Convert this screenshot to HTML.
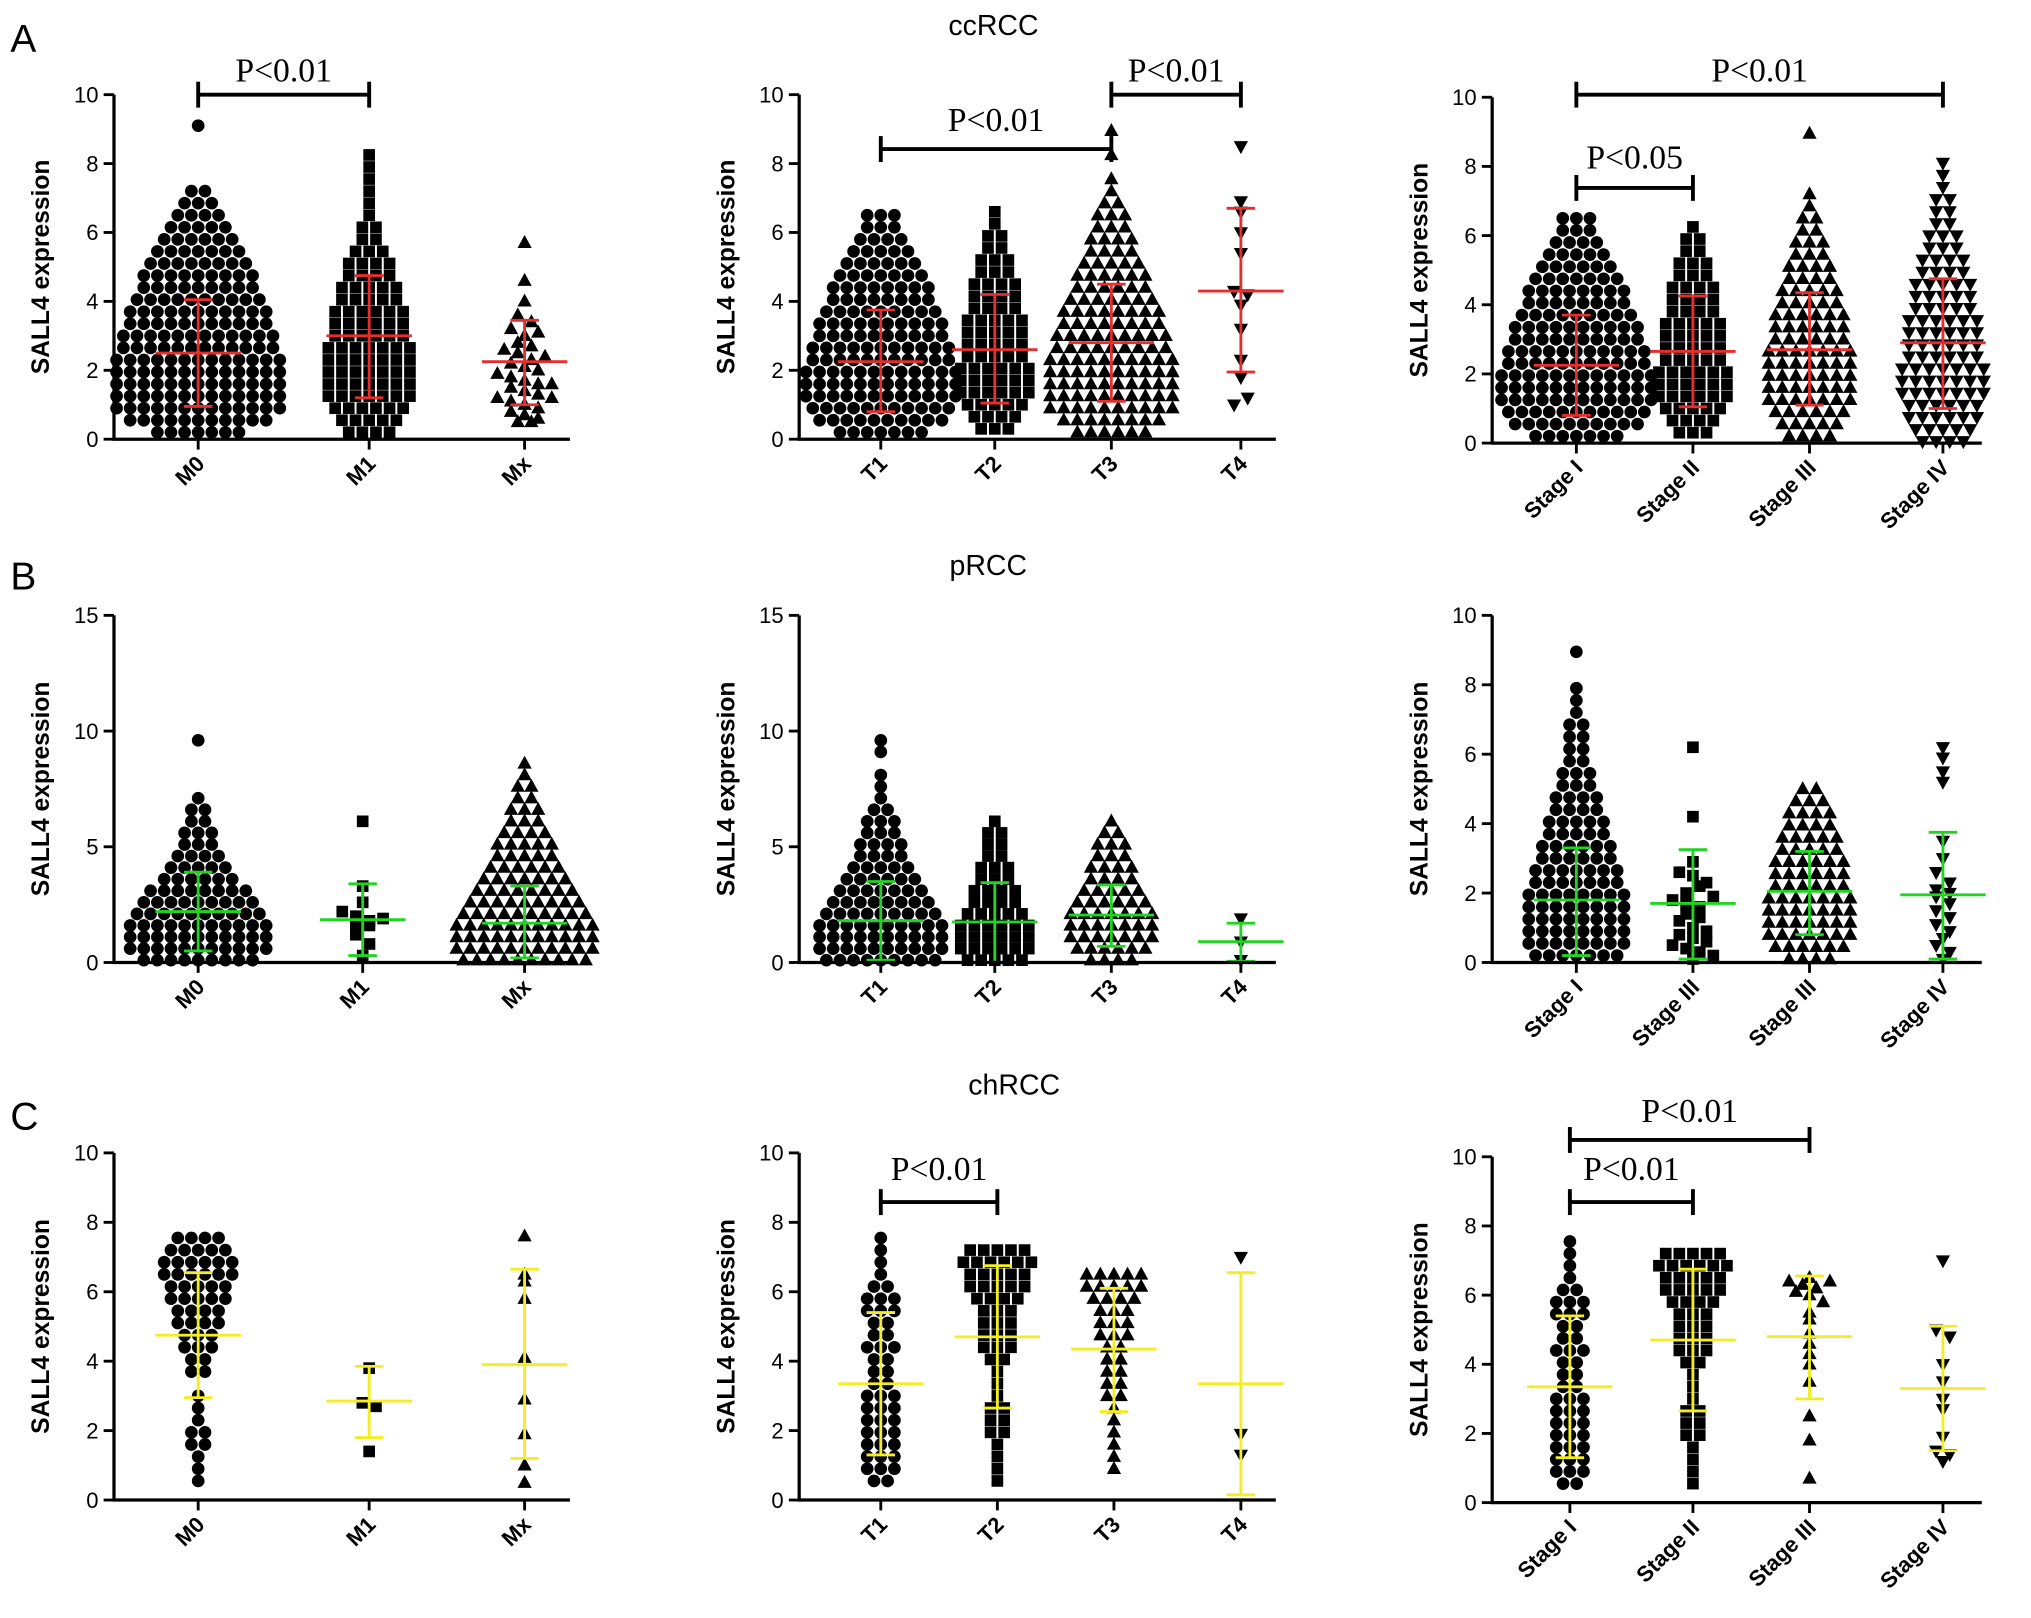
<!DOCTYPE html>
<html><head><meta charset="utf-8">
<style>
html,body{margin:0;padding:0;background:#fff;}
svg{display:block;}
text{font-family:"Liberation Sans",sans-serif;}
</style></head>
<body>
<svg id="fig" width="2031" height="1618" viewBox="0 0 1568 1249" xmlns="http://www.w3.org/2000/svg">
<text x="8" y="40" font-size="30">A</text>
<text x="8" y="455" font-size="30">B</text>
<text x="8" y="872" font-size="30">C</text>
<text x="767" y="27" font-size="22" text-anchor="middle">ccRCC</text>
<text x="763" y="444" font-size="22" text-anchor="middle">pRCC</text>
<text x="783" y="845" font-size="22" text-anchor="middle">chRCC</text>
</svg>
<script>
// ---- data: row counts (bins of `step` starting at `start`) or explicit values ----
const A1_M0=[7,11,13,13,13,13,13,12,12,11,11,10,9,9,8,7,6,5,4,3,2];
const A1_M0_out=[9.1];
const A1_M1=[4,5,6,7,7,7,7,7,6,6,6,5,5,4,4,3,2,2,1,1,1,1,1,1];
const A1_Mx=[5.7,4.6,4.0,3.6,3.4,3.2,3.0,2.8,2.6,2.5,2.3,2.2,2.1,2.0,1.9,1.8,1.7,1.6,1.5,1.4,1.3,1.2,1.1,1.0,0.9,0.8,0.7,0.6,0.5,2.4,2.7,3.1,1.6,1.2,0.5];
const A2_T1=[7,10,11,12,12,12,11,11,10,10,9,8,8,7,6,5,4,3,3];
const A2_T2=[3,4,5,6,6,6,5,5,5,5,4,4,4,3,3,2,2,1,1];
const A2_T3=[6,8,10,10,10,10,10,9,9,8,8,7,6,6,5,4,4,3,3,2,1,1,0,1,0,1];
const A2_T4=[8.5,6.9,6.6,6.0,5.4,4.3,4.2,3.9,3.2,2.3,1.8,1.0,1.2];
const A3_I=[7,10,11,12,12,12,11,11,10,10,9,8,8,7,6,5,4,3,3];
const A3_II=[3,4,5,6,6,6,5,5,5,5,4,4,4,3,3,2,2,1];
const A3_III=[4,5,6,7,7,7,7,7,6,6,6,5,5,4,4,3,3,2,2,1,1,0,0,0,0,1];
const A3_IV=[4,5,6,6,7,7,7,6,6,6,6,5,5,5,4,4,3,3,2,2,2,1,1,1];
const B1_M0=[9,11,11,11,10,9,8,6,5,4,3,3,2,2,1,0,0,0,0,1];
const B1_M1=[6.1,3.3,2.6,2.2,2.0,1.8,1.9,1.7,1.6,1.2,0.8,0.3];
const B1_Mx=[10,11,11,11,10,9,8,7,6,5,5,4,3,3,2,2,1,1];
const B2_T1=[9,10,10,10,9,8,7,6,5,4,4,3,3,2,1,1,1,0,1,1];
const B2_T2=[5,6,6,6,5,4,4,3,3,2,2,2,1];
const B2_T3=[4,6,7,7,7,6,5,4,4,3,3,2,1];
const B2_T4=[1.9,0.9,0.1];
const B3_I=[7,8,8,8,8,8,7,7,6,6,5,5,4,4,3,3,2,2,2,2,1,1,1,0,0,1];
const B3_II=[6.2,4.2,2.9,2.6,2.5,2.3,2.0,1.8,1.7,1.6,1.4,1.3,1.2,1.0,0.9,0.8,0.7,0.5,0.4,0.3,0.2,0.1,2.2,1.9,0.6];
const B3_III=[4,6,7,7,7,7,6,6,6,5,5,4,4,3,2];
const B3_IV=[6.2,5.9,5.5,5.2,3.5,3.0,2.6,2.3,2.1,1.9,1.7,1.5,1.3,1.1,0.9,0.7,0.5,0.3,0.1,2.0];
const C1_M0=[0,1,1,1,2,2,1,1,1,0,2,2,3,3,4,4,5,5,6,6,5,4];
const C1_M1=[3.8,2.8,2.7,1.4];
const C1_Mx=[7.6,6.5,6.3,5.8,4.1,2.9,1.9,1.0,0.5];
const C2_T1=[0,2,3,3,3,3,3,3,3,2,2,2,3,2,2,3,3,2,1,1,1,1];
const C2_T2=[0,1,1,1,1,2,2,2,1,1,1,2,3,3,3,3,4,5,5,6,5];
const C2_T3=[0,0,1,1,1,1,1,1,2,2,2,2,2,3,3,3,4,5,5];
const C2_T4=[7.0,1.9,1.3];
const C3_III=[6.5,6.4,6.3,6.2,6.1,6.0,5.8,5.5,5.3,4.9,4.6,4.3,4.0,3.5,2.5,1.8,0.7,6.4];
const C3_IV=[7.0,5.0,4.8,4.0,3.5,3.0,2.7,1.9,1.5,1.2,1.4];
// stats [mean, lower, upper]
const A1_stats=[[2.5,0.95,4.05],[3.0,1.2,4.75],[2.25,1.0,3.45]];
const A2_stats=[[2.25,0.8,3.75],[2.6,1.05,4.2],[2.8,1.1,4.5],[4.3,1.95,6.7]];
const A3_stats=[[2.25,0.8,3.7],[2.65,1.05,4.25],[2.7,1.1,4.35],[2.9,1.0,4.75]];
const B1_stats=[[2.2,0.5,3.9],[1.85,0.3,3.4],[1.7,0.2,3.3]];
const B2_stats=[[1.8,0.1,3.5],[1.75,0.0,3.45],[2.05,0.7,3.35],[0.9,0.05,1.7]];
const B3_stats=[[1.8,0.2,3.3],[1.7,0.1,3.25],[2.05,0.8,3.2],[1.95,0.1,3.75]];
const C1_stats=[[4.75,2.95,6.55],[2.85,1.8,3.85],[3.9,1.2,6.65]];
const C2_stats=[[3.35,1.3,5.4],[4.7,2.65,6.75],[4.35,2.55,6.1],[3.35,0.15,6.55]];
const C3_stats=[[3.35,1.3,5.4],[4.7,2.65,6.75],[4.8,3.0,6.55],[3.3,1.5,5.1]];
const labM=["M0","M1","Mx"], labT=["T1","T2","T3","T4"], labS=["Stage I","Stage II","Stage III","Stage IV"], labSB=["Stage I","Stage III","Stage III","Stage IV"];

const NS="http://www.w3.org/2000/svg";
const svg=document.getElementById('fig');
function mk(tag,attrs,parent){const e=document.createElementNS(NS,tag);for(const k in attrs)e.setAttribute(k,attrs[k]);(parent||svg).appendChild(e);return e;}
function expand(counts,start,step){const v=[];counts.forEach((c,i)=>{for(let j=0;j<c;j++)v.push(start+step*i);});return v;}

const RED="#e62e2e",GREEN="#22d422",YEL="#f2ee22";
const panels=[
 {id:"a1",ax:88,y0:339,yt:73,max:10,tick:2,end:440,cx:[153,285,405],lab:labM,color:RED,stats:A1_stats,step:0.35,
  groups:[expand(A1_M0,0.2,0.35).concat(A1_M0_out),expand(A1_M1,0.2,0.35),A1_Mx]},
 {id:"a2",ax:617,y0:339,yt:73,max:10,tick:2,end:985,cx:[680,768,858,958],lab:labT,color:RED,stats:A2_stats,step:0.35,
  groups:[expand(A2_T1,0.2,0.35),expand(A2_T2,0.3,0.35),expand(A2_T3,0.2,0.35),A2_T4]},
 {id:"a3",ax:1152,y0:342,yt:75,max:10,tick:2,end:1530,cx:[1217,1307,1397,1500],lab:labS,color:RED,stats:A3_stats,step:0.35,
  groups:[expand(A3_I,0.2,0.35),expand(A3_II,0.3,0.35),expand(A3_III,0.2,0.35),expand(A3_IV,0.05,0.35)]},
 {id:"b1",ax:88,y0:743,yt:475,max:15,tick:5,end:440,cx:[153,280,405],lab:labM,color:GREEN,stats:B1_stats,step:0.5,
  groups:[expand(B1_M0,0.1,0.5),B1_M1,expand(B1_Mx,0.1,0.5)]},
 {id:"b2",ax:617,y0:743,yt:475,max:15,tick:5,end:985,cx:[680,768,858,958],lab:labT,color:GREEN,stats:B2_stats,step:0.5,
  groups:[expand(B2_T1,0.1,0.5),expand(B2_T2,0.1,0.5),expand(B2_T3,0.1,0.5),B2_T4]},
 {id:"b3",ax:1152,y0:743,yt:475,max:10,tick:2,end:1530,cx:[1217,1307,1397,1500],lab:labSB,color:GREEN,stats:B3_stats,step:0.35,
  groups:[expand(B3_I,0.2,0.35),B3_II,expand(B3_III,0.1,0.35),B3_IV]},
 {id:"c1",ax:88,y0:1158,yt:890,max:10,tick:2,end:440,cx:[153,285,405],lab:labM,color:YEL,stats:C1_stats,step:0.35,
  groups:[expand(C1_M0,0.2,0.35),C1_M1,C1_Mx]},
 {id:"c2",ax:617,y0:1158,yt:890,max:10,tick:2,end:985,cx:[680,770,860,958],lab:labT,color:YEL,stats:C2_stats,step:0.35,
  groups:[expand(C2_T1,0.2,0.35),expand(C2_T2,0.2,0.35),expand(C2_T3,0.2,0.35),C2_T4]},
 {id:"c3",ax:1152,y0:1160,yt:893,max:10,tick:2,end:1530,cx:[1212,1307,1397,1500],lab:labS,color:YEL,stats:C3_stats,step:0.35,
  groups:[expand(C2_T1,0.2,0.35),expand(C2_T2,0.2,0.35),C3_III,C3_IV]}
];
const brackets=[
 {p:0,a:0,b:1,y:73,ly:55},{p:1,a:0,b:2,y:115,ly:93},{p:1,a:2,b:3,y:73,ly:55},
 {p:2,a:0,b:3,y:73,ly:55},{p:2,a:0,b:1,y:145,ly:122,t:"P<0.05"},
 {p:7,a:0,b:1,y:928,ly:903},{p:8,a:0,b:2,y:880,ly:858},{p:8,a:0,b:1,y:928,ly:903}
];

function marker(type,x,y,g){
  let e;
  if(type===0) e=mk('circle',{cx:x,cy:y,r:4.9,fill:'#000'},g);
  else if(type===1) e=mk('rect',{x:x-4.5,y:y-4.5,width:9,height:9,fill:'#000'},g);
  else if(type===2) e=mk('polygon',{points:`${x},${y-6} ${x+5.5},${y+4} ${x-5.5},${y+4}`,fill:'#000'},g);
  else e=mk('polygon',{points:`${x},${y+6} ${x+5.5},${y-4} ${x-5.5},${y-4}`,fill:'#000'},g);
  
  
}

panels.forEach(p=>{
  const g=mk('g',{});
  
  
  const Y=v=>p.y0-(v/p.max)*(p.y0-p.yt);
  p.groups.forEach((vals,gi)=>{
    const type=gi;
    const bins={};
    vals.forEach(v=>{const k=Math.round(v/p.step);(bins[k]=bins[k]||[]).push(v);});
    Object.keys(bins).forEach(k=>{
      const arr=bins[k];const n=arr.length;
      arr.forEach((v,j)=>{marker(type,p.cx[gi]+(j-(n-1)/2)*10.5,Y(v),g);});
    });
  });
  p.stats.forEach((s,gi)=>{
    const x=p.cx[gi];
    const eb=mk('g',{stroke:p.color,'stroke-width':2.2,fill:'none'},g);
    
    
    mk('line',{x1:x,x2:x,y1:Y(s[1]),y2:Y(s[2])},eb);
    mk('line',{x1:x-11,x2:x+11,y1:Y(s[1]),y2:Y(s[1])},eb);
    mk('line',{x1:x-11,x2:x+11,y1:Y(s[2]),y2:Y(s[2])},eb);
    mk('line',{x1:x-33,x2:x+33,y1:Y(s[0]),y2:Y(s[0])},eb);
  });
  const ya=mk('line',{x1:p.ax,x2:p.ax,y1:p.yt,y2:p.y0,stroke:'#000','stroke-width':2.5},g);
  
  
  const xa=mk('line',{x1:p.ax-1,x2:p.end,y1:p.y0,y2:p.y0,stroke:'#000','stroke-width':2.5},g);
  
  
  for(let v=0;v<=p.max;v+=p.tick){
    mk('line',{x1:p.ax-8,x2:p.ax,y1:Y(v),y2:Y(v),stroke:'#000','stroke-width':2.2},g);
    const t=mk('text',{x:p.ax-12,y:Y(v)+6,'font-size':17,'text-anchor':'end'},g);
    t.textContent=v;
    
    
  }
  const yl=mk('text',{x:0,y:0,'font-size':19,'font-weight':'bold','text-anchor':'middle',transform:`translate(${p.ax-50},${(p.y0+p.yt)/2}) rotate(-90)`},g);
  yl.textContent='SALL4 expression';
  
  
  p.cx.forEach((x,i)=>{
    mk('line',{x1:x,x2:x,y1:p.y0,y2:p.y0+8,stroke:'#000','stroke-width':2.2},g);
    const t=mk('text',{x:0,y:0,'font-size':17,'font-weight':'bold','text-anchor':'end',transform:`translate(${x+6},${p.y0+20}) rotate(-45)`},g);
    t.textContent=p.lab[i];
    
    
  });
});

brackets.forEach(b=>{
  const p=panels[b.p];const x1=p.cx[b.a],x2=p.cx[b.b];
  const g=mk('g',{stroke:'#000','stroke-width':3,fill:'none'});
  
  
  mk('line',{x1:x1,x2:x2,y1:b.y,y2:b.y},g);
  mk('line',{x1:x1,x2:x1,y1:b.y-10,y2:b.y+10},g);
  mk('line',{x1:x2,x2:x2,y1:b.y-10,y2:b.y+10},g);
  const t=mk('text',{x:(x1+x2)/2,y:b.ly+8,'font-size':26,'text-anchor':'middle',style:'font-family:"Liberation Serif",serif'});
  t.textContent=b.t||'P<0.01';
  
  
});
</script>
</body></html>
